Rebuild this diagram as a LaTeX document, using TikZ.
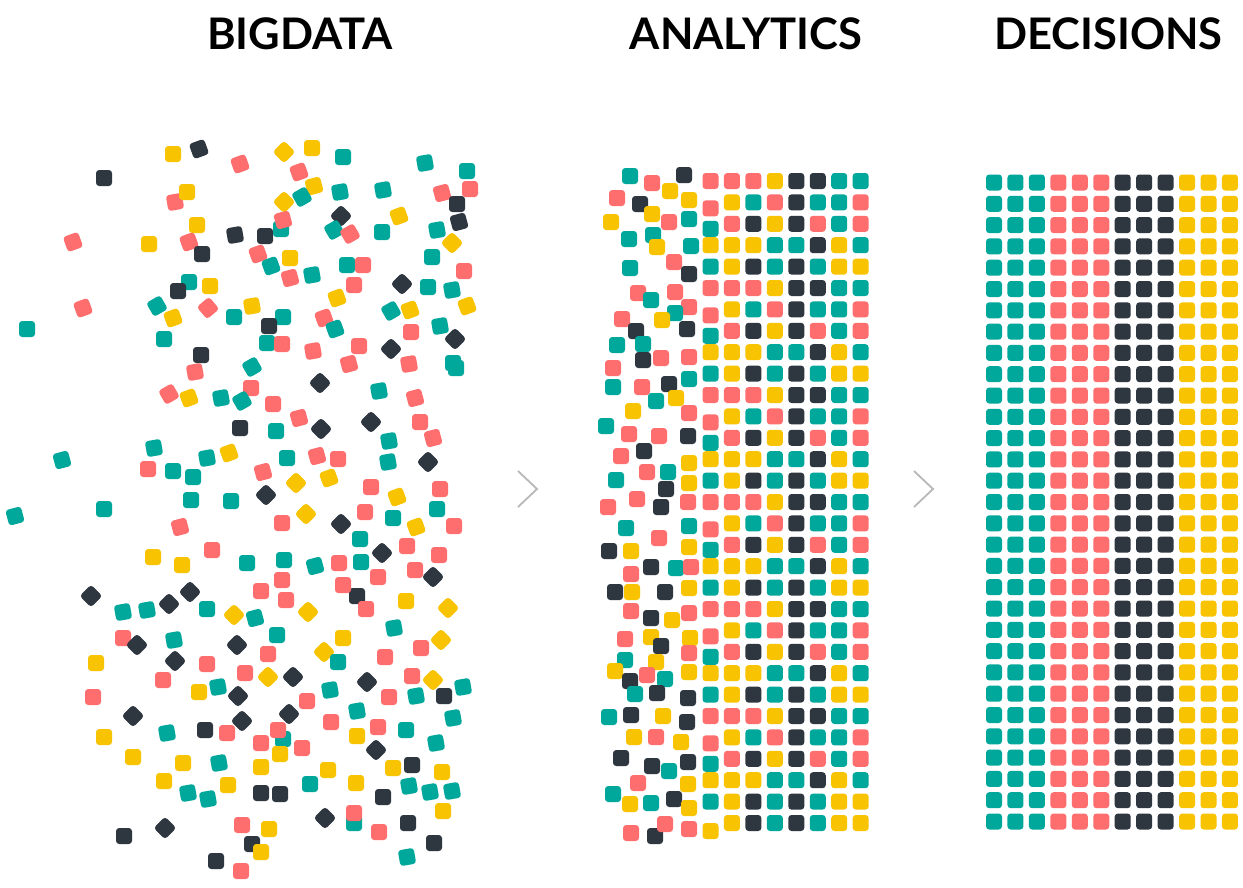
\documentclass[tikz,border=0pt]{standalone}
\usepackage{fontspec}
\setmainfont{Lato}
\definecolor{cT}{HTML}{00A79B}
\definecolor{cS}{HTML}{FF6E6E}
\definecolor{cD}{HTML}{2E3640}
\definecolor{cY}{HTML}{F8C300}
\definecolor{chevgray}{HTML}{B8B8B8}
\tikzset{
  sq/.style={minimum size=16pt, inner sep=0pt, outer sep=0pt, rounded corners=3.2pt, draw=none},
  title/.style={anchor=base, font=\fontsize{43.5}{43.5}\selectfont\bfseries, text=black, inner sep=0pt},
  chev/.style={draw=chevgray, line width=1.8pt, line join=miter}
}
\def\leftA{173/154/0/Y, 199/149/20/D, 104/178/0/D, 240/164/20/S, 284/152/45/Y, 312/148/0/Y, 343/157/0/T, 425/163/10/T, 467/171/0/T, 299/172/20/S, 314/186/15/Y, 340/192/10/T, 383/190/10/T, 442/193/15/S, 470/189/0/S, 457/204/0/D, 175/202/10/S, 187/192/0/Y, 284/202/45/Y, 302/197/30/T, 341/216/45/D, 399/216/20/Y, 459/222/15/D, 73/242/20/S, 197/225/0/Y, 149/244/0/Y, 189/242/20/S, 202/254/0/D, 235/235/10/D, 265/236/0/D, 281/229/0/T, 283/220/15/S, 334/230/30/T, 350/234/30/S, 382/232/0/T, 437/230/10/T, 452/243/45/Y, 432/257/0/T, 258/254/20/S, 271/266/20/T, 290/258/0/Y, 290/278/15/S, 312/275/10/T, 347/265/0/T, 363/265/0/S, 354/285/0/S, 464/271/0/S, 402/284/45/D, 428/287/0/T, 452/290/10/T, 467/306/20/Y, 83/308/20/S, 27/329/0/T, 189/282/0/T, 178/291/0/D, 210/286/0/Y, 157/306/30/T, 173/318/20/Y, 208/308/40/S, 164/339/0/T, 234/317/0/T, 252/306/10/Y, 283/317/0/T, 269/326/0/D, 267/343/0/T, 282/344/0/S, 337/298/20/Y, 324/318/20/S, 335/329/20/T, 359/346/0/S, 313/351/10/S, 391/311/30/T, 410/310/20/Y, 411/332/0/S, 440/326/10/T, 455/339/45/D, 391/349/45/D, 349/364/15/S, 409/364/10/S, 453/363/0/T, 456/368/0/T, 201/355/0/D, 195/372/10/S, 252/367/30/T, 320/383/45/D, 251/388/0/S, 379/391/10/T}
\def\leftB{169/394/30/S, 189/398/20/Y, 221/398/10/T, 242/401/30/T, 415/398/15/S, 273/404/0/S, 299/418/15/S, 240/428/0/D, 276/431/0/T, 321/429/45/D, 371/422/45/D, 420/422/0/S, 433/438/15/S, 389/441/10/T, 388/462/10/T, 428/462/45/D, 62/460/15/T, 154/448/10/T, 148/469/0/S, 173/471/0/T, 193/477/0/T, 207/458/10/T, 229/453/20/Y, 287/458/0/T, 317/456/15/S, 338/459/0/S, 263/472/15/S, 296/483/45/Y, 329/478/20/Y, 371/487/0/S, 440/489/0/S, 397/497/20/Y, 266/495/45/D, 191/500/0/T, 231/501/0/T, 104/509/0/T, 15/516/15/T, 180/527/15/S, 282/523/0/S, 306/514/45/Y, 365/512/0/S, 393/518/0/T, 437/509/0/T, 341/524/45/D, 416/527/20/Y, 454/526/0/S, 360/539/0/T, 407/546/0/S, 382/553/45/D, 439/555/0/S, 153/557/0/Y, 182/565/0/Y, 212/550/0/S, 247/563/0/T, 284/560/0/T, 315/566/15/T, 339/563/0/S, 361/562/0/T, 378/577/0/S, 415/570/0/S, 433/577/45/D, 282/580/0/S, 261/591/0/S, 357/596/0/D, 343/585/0/S, 286/600/0/S, 366/609/0/S, 406/601/0/Y, 448/608/45/Y, 91/596/45/D, 123/612/10/T, 147/610/10/T, 169/604/45/D, 190/592/45/D, 207/609/0/T, 234/615/45/Y, 255/618/15/T, 308/612/45/Y, 394/628/10/T}
\def\leftC{123/638/0/S, 137/645/45/D, 174/640/10/T, 237/645/45/D, 277/635/0/T, 343/638/0/Y, 421/648/0/S, 441/640/45/Y, 324/652/45/Y, 338/662/0/T, 385/657/0/S, 268/654/0/S, 175/661/45/D, 207/664/0/S, 96/663/0/Y, 163/680/0/S, 245/673/0/S, 268/677/45/Y, 293/677/45/D, 367/682/45/D, 412/676/0/S, 433/680/45/Y, 463/687/10/T, 444/696/0/D, 416/696/10/T, 389/697/0/S, 330/690/10/T, 307/701/0/S, 218/687/10/T, 199/692/0/Y, 238/696/45/D, 93/697/0/S, 133/716/45/D, 289/714/45/D, 242/721/45/D, 357/711/10/T, 331/722/0/S, 378/727/0/S, 406/730/0/T, 453/718/10/T, 104/737/0/Y, 167/733/10/T, 205/730/0/D, 227/733/0/S, 283/739/0/T, 278/730/0/S, 261/743/0/S, 302/748/0/S, 357/736/0/Y, 376/750/45/D, 436/743/10/T, 133/757/0/Y, 183/763/0/Y, 219/763/10/T, 280/754/0/Y, 261/767/0/Y, 328/770/0/Y, 393/768/0/Y, 412/765/0/D, 442/772/0/Y, 164/781/0/Y, 188/793/10/T, 208/799/10/T, 228/785/0/Y, 261/793/0/D, 280/794/0/D, 310/784/0/T, 356/783/0/Y, 409/786/10/T, 430/792/10/T, 452/791/10/T, 383/797/0/D, 443/811/0/Y, 325/818/45/D, 354/823/0/T, 354/813/0/S, 379/832/0/S, 408/823/0/D, 434/843/0/D, 407/857/10/T, 124/836/0/D, 165/828/45/D, 242/825/0/S, 269/829/0/Y, 252/844/0/D, 261/852/0/Y, 216/861/0/D, 241/871/0/S}
\def\midsc{630/176/0/T, 652/183/0/S, 684/175/0/D, 670/191/0/Y, 617/198/0/S, 640/204/0/D, 689/200/0/Y, 652/214/0/Y, 669/222/0/S, 689/219/0/T, 611/222/0/Y, 629/239/0/T, 653/235/0/T, 657/247/0/Y, 691/246/0/T, 630/268/0/T, 674/262/0/S, 689/274/0/D, 638/293/0/S, 651/300/0/T, 675/292/0/S, 689/307/0/S, 675/313/0/T, 662/320/0/Y, 622/319/0/S, 636/331/0/D, 687/329/0/D, 617/345/0/T, 643/344/0/T, 643/360/0/D, 661/358/0/S, 689/357/0/S, 613/368/0/S, 613/387/0/T, 642/387/0/S, 669/384/0/D, 689/379/0/T, 656/401/0/T, 676/398/0/Y, 633/411/0/Y, 689/413/0/S, 606/426/0/T, 629/434/0/S, 659/436/0/S, 688/436/0/D, 644/451/0/D, 621/456/0/S, 647/472/0/S, 668/472/0/T, 689/463/0/Y, 689/483/0/Y, 616/480/0/T, 666/489/0/D, 637/499/0/S, 608/507/0/S, 661/507/0/D, 688/502/0/S, 626/528/0/T, 689/526/0/T, 659/538/0/S, 609/551/0/D, 631/551/0/Y, 689/547/0/Y, 651/567/0/D, 676/568/0/T, 691/567/0/S, 631/574/0/S, 615/592/0/D, 632/592/0/Y, 665/592/0/D, 689/588/0/Y, 631/611/0/S, 651/618/0/D, 672/620/0/Y, 689/613/0/S, 625/639/0/S, 651/637/0/Y, 661/646/0/D, 690/638/0/Y, 689/653/0/S, 625/660/0/T, 656/662/0/Y, 615/671/0/Y, 647/675/0/S, 665/679/0/T, 689/672/0/Y, 630/681/0/D, 635/694/0/T, 657/693/0/D, 688/698/0/D, 609/717/0/T, 631/715/0/D, 663/716/0/Y, 687/722/0/D, 634/737/0/Y, 656/737/0/S, 681/742/0/Y, 621/758/0/D, 652/766/0/D, 669/771/0/T, 688/762/0/D, 638/783/0/S, 688/784/0/Y, 613/794/0/T, 630/804/0/Y, 651/803/0/T, 674/799/0/D, 689/808/0/Y, 631/833/0/S, 655/836/0/D, 665/824/0/S, 689/829/0/S}
% middle grid row patterns: column / colour / vertical offset
\def\pA{0/S/0, 1/S/0, 2/S/0, 3/Y/0, 4/D/0, 5/D/0, 6/T/0, 7/T/0}
\def\pB{0/S/6, 1/Y/0, 2/T/0, 3/S/0, 4/D/0, 5/T/0, 6/T/0, 7/S/0}
\def\pC{0/T/5, 1/S/0, 2/D/0, 3/Y/0, 4/D/0, 5/S/0, 6/T/0, 7/S/0}
\def\pD{0/Y/0, 1/Y/0, 2/Y/0, 3/T/0, 4/T/0, 5/D/0, 6/Y/0, 7/T/0}
\def\pE{0/T/0, 1/Y/0, 2/D/0, 3/T/0, 4/D/0, 5/T/0, 6/Y/0, 7/Y/0}
\def\pF{0/Y/8, 1/Y/0, 2/D/0, 3/T/0, 4/D/0, 5/T/0, 6/Y/0, 7/Y/0}
\begin{document}
\begin{tikzpicture}[x=1pt, y=-1pt]
\fill[white] (0,0) rectangle (1243,887);
\useasboundingbox (0,0) rectangle (1243,887);
% titles
\node[title] (t1) at (300,49.5) {BIGDATA};
\node[title] (t2) at (746,49.5) {ANALYTICS};
\node[title] (t3) at (1108.5,49.5) {DECISIONS};
% big data scatter
\foreach \x/\y/\a/\q in \leftA { \node[sq, fill=c\q, rotate=\a] at (\x,\y) {}; }
\foreach \x/\y/\a/\q in \leftB { \node[sq, fill=c\q, rotate=\a] at (\x,\y) {}; }
\foreach \x/\y/\a/\q in \leftC { \node[sq, fill=c\q, rotate=\a] at (\x,\y) {}; }
% analytics grid
\foreach \j in {0,...,30}{
  \pgfmathtruncatemacro\m{\j==30 ? 5 : mod(\j,5)}
  \ifcase\m \let\row\pA \or \let\row\pB \or \let\row\pC \or \let\row\pD \or \let\row\pE \or \let\row\pF \fi
  \foreach \k/\q/\o in \row { \node[sq, fill=c\q] at ({710.5+21.45*\k},{181+21.4*\j+\o}) {}; }
}
\foreach \x/\y/\a/\q in \midsc { \node[sq, fill=c\q, rotate=\a] at (\x,\y) {}; }
% decisions grid
\foreach \i in {0,...,11}{
  \pgfmathtruncatemacro\g{int(\i/3)}
  \ifcase\g \def\q{T}\or \def\q{S}\or \def\q{D}\or \def\q{Y}\fi
  \foreach \j in {0,...,30}{ \node[sq, fill=c\q] at ({994+21.45*\i},{182.5+21.3*\j}) {}; }
}
% chevrons
\coordinate (a1) at (518,471);
\coordinate (a2) at (537,489);
\coordinate (a3) at (518,507);
\coordinate (b1) at (914,471);
\coordinate (b2) at (933,489);
\coordinate (b3) at (914,507);
\draw[chev] (a1) -- (a2) -- (a3);
\draw[chev] (b1) -- (b2) -- (b3);
\end{tikzpicture}
\end{document}
